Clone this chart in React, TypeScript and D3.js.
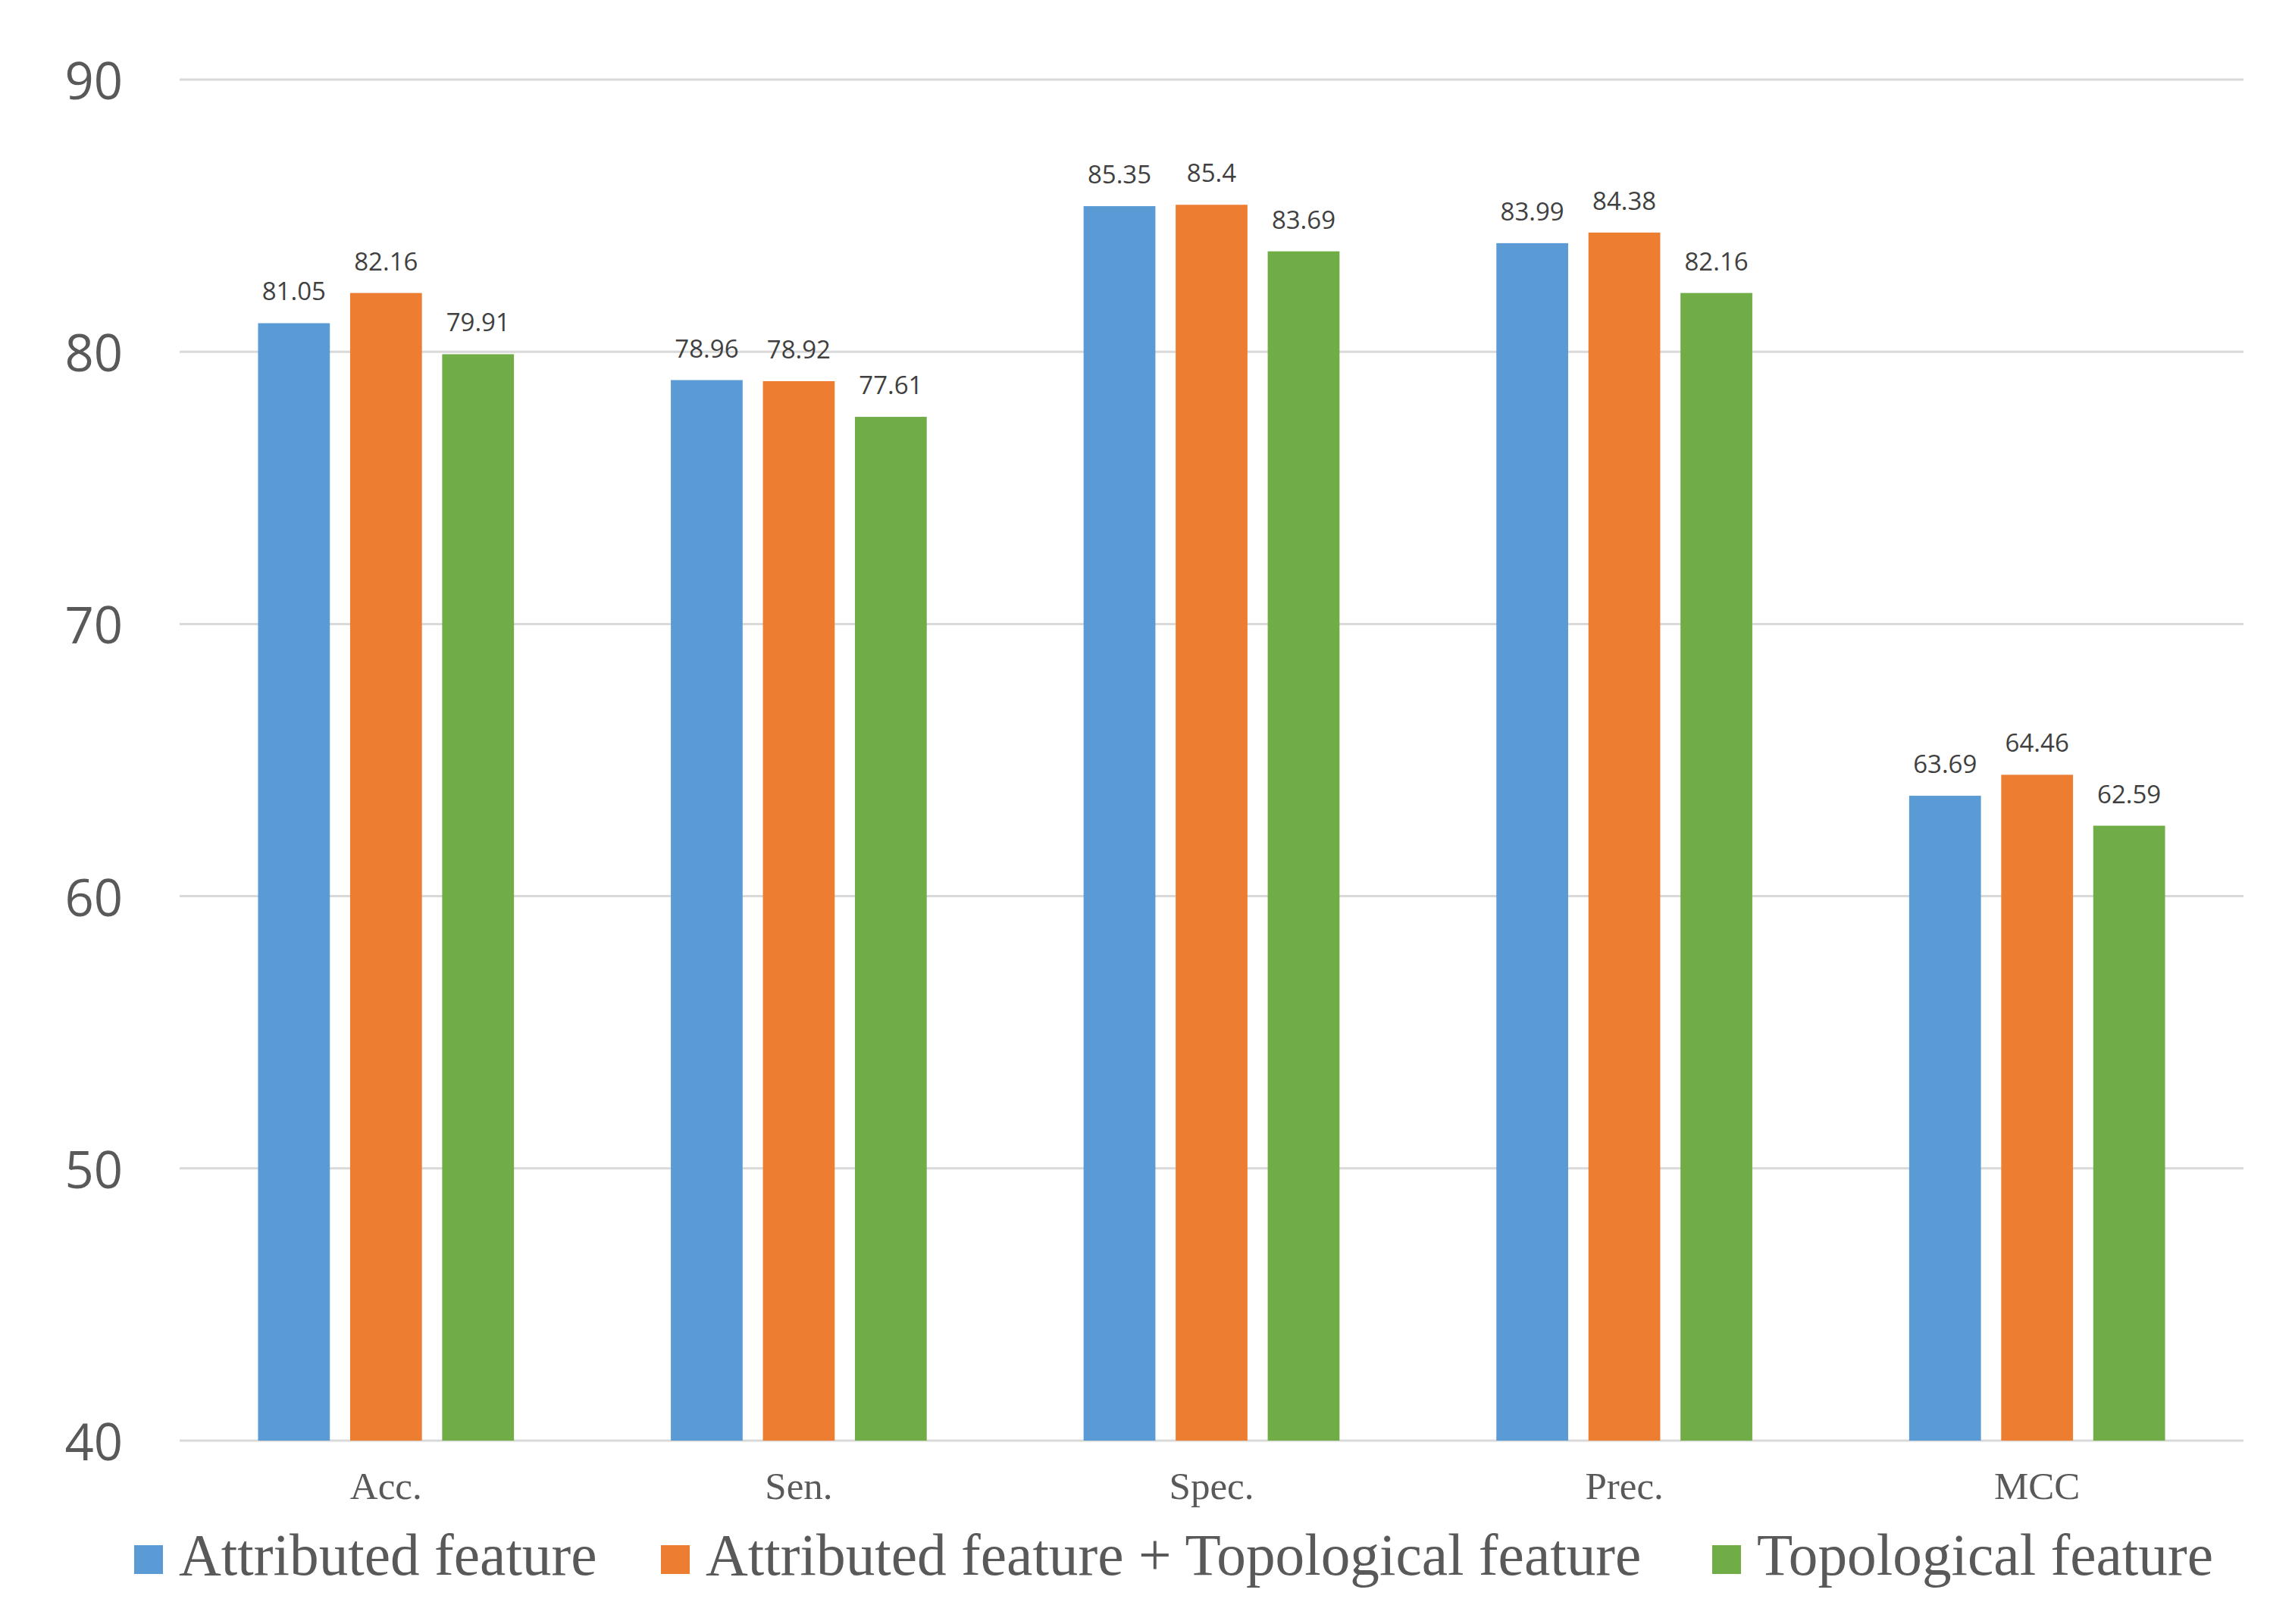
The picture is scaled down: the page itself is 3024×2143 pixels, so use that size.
import * as d3 from "d3";

const categories = ["Acc.", "Sen.", "Spec.", "Prec.", "MCC"];
const seriesNames = [
  "Attributed feature",
  "Attributed feature + Topological feature",
  "Topological feature",
];
const attributed = [81.05, 78.96, 85.35, 83.99, 63.69];
const combined = [82.16, 78.92, 85.4, 84.38, 64.46];
const topological = [79.91, 77.61, 83.69, 82.16, 62.59];
const labels = [
  ["81.05", "78.96", "85.35", "83.99", "63.69"],
  ["82.16", "78.92", "85.4", "84.38", "64.46"],
  ["79.91", "77.61", "83.69", "82.16", "62.59"],
];
const yTicks = [40, 50, 60, 70, 80, 90];
const colors = ["#5B9BD5", "#ED7D31", "#70AD47"];

const W = 3024;
const H = 2143;
const left = 237;
const right = 2960;
const top = 105;
const bottom = 1901;

const App = () => {
  const series = [attributed, combined, topological];

  const x0 = d3.scaleBand<string>().domain(categories).range([left, right]).padding(0);
  const groupW = x0.bandwidth() * 0.62;
  const x1 = d3
    .scaleBand<number>()
    .domain([0, 1, 2])
    .range([0, groupW])
    .paddingInner(0.22)
    .paddingOuter(0);
  const y = d3.scaleLinear().domain([40, 90]).range([bottom, top]);

  // legend square x positions
  const legendX = [177, 872, 2259];

  return (
    <svg
      width={W}
      height={H}
      style={{ position: "absolute", left: 0, top: 0, background: "#fff" }}
    >
      {yTicks.map((t) => (
        <g key={t}>
          <line x1={left} x2={right} y1={y(t)} y2={y(t)} stroke="#D9D9D9" strokeWidth={3} />
          <text
            x={162}
            y={y(t)}
            textAnchor="end"
            dominantBaseline="central"
            fontFamily="'Open Sans', sans-serif"
            fontSize={67}
            fill="#595959"
          >
            {t}
          </text>
        </g>
      ))}

      {series.map((vals, si) =>
        vals.map((v, ci) => {
          const bx = x0(categories[ci])! + (x0.bandwidth() - groupW) / 2 + x1(si)!;
          return (
            <g key={`${si}-${ci}`}>
              <rect
                x={bx}
                y={y(v)}
                width={x1.bandwidth()}
                height={y(40) - y(v)}
                fill={colors[si]}
              />
              <text
                x={bx + x1.bandwidth() / 2}
                y={y(v) - 30}
                textAnchor="middle"
                fontFamily="'Open Sans', sans-serif"
                fontSize={33}
                fill="#404040"
              >
                {labels[si][ci]}
              </text>
            </g>
          );
        })
      )}

      {categories.map((c) => (
        <text
          key={c}
          x={x0(c)! + x0.bandwidth() / 2}
          y={1978}
          textAnchor="middle"
          fontFamily="'Liberation Serif', 'Times New Roman', serif"
          fontSize={51}
          fill="#595959"
        >
          {c}
        </text>
      ))}

      {seriesNames.map((name, i) => (
        <g key={name}>
          <rect x={legendX[i]} y={2039} width={38} height={38} fill={colors[i]} />
          <text
            x={legendX[i] + 59}
            y={2078}
            fontFamily="'Liberation Serif', 'Times New Roman', serif"
            fontSize={77.3}
            fill="#595959"
          >
            {name}
          </text>
        </g>
      ))}
    </svg>
  );
};

export default App;
